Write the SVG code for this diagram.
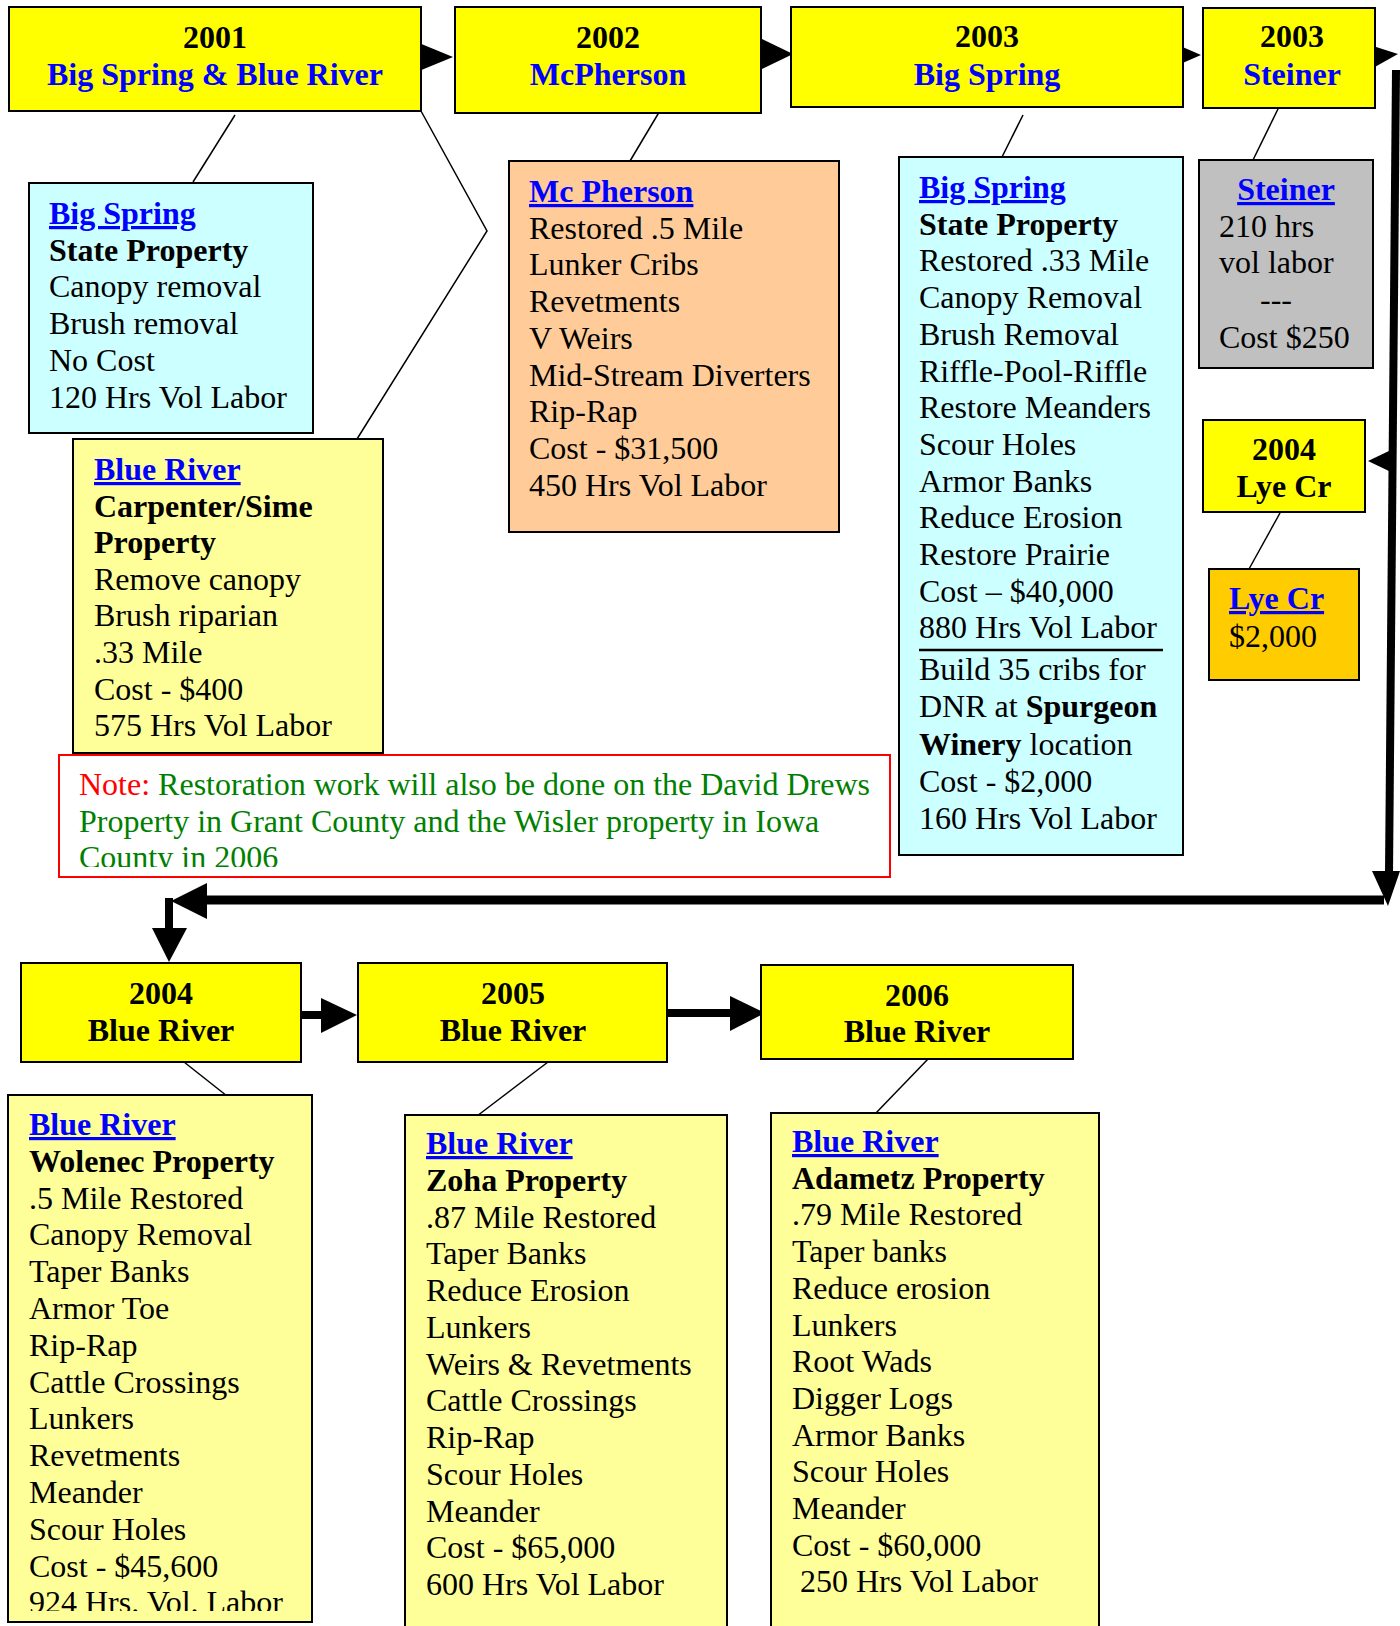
<svg xmlns="http://www.w3.org/2000/svg" width="1400" height="1626" viewBox="0 0 1400 1626">
<style>
.box{stroke:#000;stroke-width:2}
.yel{fill:#ffff00}
.cyan{fill:#ccffff}
.peach{fill:#ffcc99}
.gray{fill:#c0c0c0}
.gold{fill:#ffcc00}
.lyel{fill:#ffff99}
text{font-family:'Liberation Serif','Times New Roman',serif;font-size:32px;fill:#000}
.b{font-weight:bold}
.blue{fill:#0000ff}
.u{text-decoration:underline;text-decoration-thickness:3px}
.h{font-weight:bold;text-anchor:middle}
.thin{stroke:#000;stroke-width:1.5;fill:none}
.thick{stroke:#000;stroke-width:8;fill:none}
.head{fill:#000;stroke:none}
.red{fill:#ff0000}
.green{fill:#008000}
</style>
<defs>
<clipPath id="clipNote"><rect x="59" y="755" width="831" height="112"/></clipPath>
<clipPath id="clipWol"><rect x="8" y="1095" width="304" height="516"/></clipPath>
</defs>
<rect width="1400" height="1626" fill="#fff"/>

<g id="connectors">
<line class="thin" x1="235" y1="115" x2="193" y2="182"/>
<polyline class="thin" points="421,111 487,231 357,439"/>
<line class="thin" x1="661" y1="109" x2="630" y2="161"/>
<line class="thin" x1="1023" y1="115" x2="1002" y2="157"/>
<line class="thin" x1="1278" y1="109" x2="1253" y2="160"/>
<line class="thin" x1="1280" y1="513" x2="1249" y2="569"/>
<line class="thin" x1="184" y1="1062" x2="227" y2="1096"/>
<line class="thin" x1="548" y1="1062" x2="477" y2="1116"/>
<line class="thin" x1="929" y1="1058" x2="875" y2="1114"/>
<polygon class="head" points="419,43 453,57 419,71"/>
<polygon class="head" points="758,37 793,54 758,71"/>
<polygon class="head" points="1178,45 1201,55 1178,65"/>
<polygon class="head" points="1373,46 1398,54 1373,68"/>
<line class="thick" x1="1396" y1="70" x2="1389" y2="874"/>
<polygon class="head" points="1372,871 1400,871 1388,906"/>
<polygon class="head" points="1391,450 1368,461 1391,472"/>
<line class="thick" x1="1384" y1="900" x2="205" y2="900" style="stroke-width:9"/>
<polygon class="head" points="207,883 171,901 207,919"/>
<line class="thick" x1="169" y1="898" x2="169" y2="930"/>
<polygon class="head" points="152,928 187,928 169,962"/>
<line class="thick" x1="301" y1="1015" x2="323" y2="1015"/>
<polygon class="head" points="321,998 357,1015 321,1033"/>
<line class="thick" x1="667" y1="1013" x2="732" y2="1013"/>
<polygon class="head" points="730,996 765,1013 730,1031"/>
</g>

<g id="n2001">
<rect class="box yel" x="9" y="7" width="412" height="104"/>
<text class="h" x="215" y="48">2001</text>
<text class="h blue" x="215" y="85">Big Spring &amp; Blue River</text>
</g>

<g id="n2002">
<rect class="box yel" x="455" y="7" width="306" height="106"/>
<text class="h" x="608" y="48">2002</text>
<text class="h blue" x="608" y="85">McPherson</text>
</g>

<g id="n2003a">
<rect class="box yel" x="791" y="7" width="392" height="100"/>
<text class="h" x="987" y="47">2003</text>
<text class="h blue" x="987" y="85">Big Spring</text>
</g>

<g id="n2003b">
<rect class="box yel" x="1203" y="8" width="172" height="100"/>
<text class="h" x="1292" y="47">2003</text>
<text class="h blue" x="1292" y="85">Steiner</text>
</g>

<g id="bigspring2001">
<rect class="box cyan" x="29" y="183" width="284" height="250"/>
<text class="b blue u" x="49" y="224">Big Spring</text>
<text class="b" x="49" y="260.7">State Property</text>
<text x="49" y="297.4">Canopy removal</text>
<text x="49" y="334.1">Brush removal</text>
<text x="49" y="370.8">No Cost</text>
<text x="49" y="407.5">120 Hrs Vol Labor</text>
</g>

<g id="blueriver2001">
<rect class="box lyel" x="73" y="439" width="310" height="314"/>
<text class="b blue u" x="94" y="480">Blue River</text>
<text class="b" x="94" y="516.6">Carpenter/Sime</text>
<text class="b" x="94" y="553.2">Property</text>
<text x="94" y="589.8">Remove canopy</text>
<text x="94" y="626.4">Brush riparian</text>
<text x="94" y="663">.33 Mile</text>
<text x="94" y="699.6">Cost - $400</text>
<text x="94" y="736.2">575 Hrs Vol Labor</text>
</g>

<g id="mcpherson">
<rect class="box peach" x="509" y="161" width="330" height="371"/>
<text class="b blue u" x="529" y="202">Mc Pherson</text>
<text x="529" y="238.7">Restored .5 Mile</text>
<text x="529" y="275.4">Lunker Cribs</text>
<text x="529" y="312.1">Revetments</text>
<text x="529" y="348.8">V Weirs</text>
<text x="529" y="385.5">Mid-Stream Diverters</text>
<text x="529" y="422.2">Rip-Rap</text>
<text x="529" y="458.9">Cost - $31,500</text>
<text x="529" y="495.6">450 Hrs Vol Labor</text>
</g>

<g id="bigspring2003">
<rect class="box cyan" x="899" y="157" width="284" height="698"/>
<text class="b blue u" x="919" y="198">Big Spring</text>
<text class="b" x="919" y="234.7">State Property</text>
<text x="919" y="271.4">Restored .33 Mile</text>
<text x="919" y="308.1">Canopy Removal</text>
<text x="919" y="344.8">Brush Removal</text>
<text x="919" y="381.5">Riffle-Pool-Riffle</text>
<text x="919" y="418.2">Restore Meanders</text>
<text x="919" y="454.9">Scour Holes</text>
<text x="919" y="491.6">Armor Banks</text>
<text x="919" y="528.3">Reduce Erosion</text>
<text x="919" y="565">Restore Prairie</text>
<text x="919" y="601.7">Cost – $40,000</text>
<text x="919" y="638.4">880 Hrs Vol Labor</text>
<line x1="919" y1="650" x2="1163" y2="650" stroke="#000" stroke-width="2.5"/>
<text x="919" y="680">Build 35 cribs for</text>
<text x="919" y="717.3">DNR at <tspan class="b">Spurgeon</tspan></text>
<text x="919" y="754.6"><tspan class="b">Winery</tspan> location</text>
<text x="919" y="791.9">Cost - $2,000</text>
<text x="919" y="829.2">160 Hrs Vol Labor</text>
</g>

<g id="steiner">
<rect class="box gray" x="1199" y="160" width="174" height="208"/>
<text class="h blue u" x="1286" y="200">Steiner</text>
<text x="1219" y="237">210 hrs</text>
<text x="1219" y="273">vol labor</text>
<text x="1260" y="310">---</text>
<text x="1219" y="348">Cost $250</text>
</g>

<g id="n2004lye">
<rect class="box yel" x="1203" y="420" width="162" height="92"/>
<text class="h" x="1284" y="460">2004</text>
<text class="h" x="1284" y="497">Lye Cr</text>
</g>

<g id="lyecr">
<rect class="box gold" x="1209" y="569" width="150" height="111"/>
<text class="b blue u" x="1229" y="609">Lye Cr</text>
<text x="1229" y="647">$2,000</text>
</g>

<g id="note">
<rect x="59" y="755" width="831" height="122" fill="#fff" stroke="#ff0000" stroke-width="2"/>
<g clip-path="url(#clipNote)">
<text x="79" y="795"><tspan class="red">Note: </tspan><tspan class="green">Restoration work will also be done on the David Drews</tspan></text>
<text class="green" x="79" y="832">Property in Grant County and the Wisler property in Iowa</text>
<text class="green" x="79" y="868">County in 2006</text>
</g>
</g>

<g id="n2004">
<rect class="box yel" x="21" y="963" width="280" height="99"/>
<text class="h" x="161" y="1004">2004</text>
<text class="h" x="161" y="1041">Blue River</text>
</g>

<g id="n2005">
<rect class="box yel" x="358" y="963" width="309" height="99"/>
<text class="h" x="513" y="1004">2005</text>
<text class="h" x="513" y="1041">Blue River</text>
</g>

<g id="n2006">
<rect class="box yel" x="761" y="965" width="312" height="94"/>
<text class="h" x="917" y="1006">2006</text>
<text class="h" x="917" y="1042">Blue River</text>
</g>

<g id="wolenec">
<rect class="box lyel" x="8" y="1095" width="304" height="527"/>
<g clip-path="url(#clipWol)">
<text class="b blue u" x="29" y="1135">Blue River</text>
<text class="b" x="29" y="1171.8">Wolenec Property</text>
<text x="29" y="1208.6">.5 Mile Restored</text>
<text x="29" y="1245.4">Canopy Removal</text>
<text x="29" y="1282.2">Taper Banks</text>
<text x="29" y="1319">Armor Toe</text>
<text x="29" y="1355.8">Rip-Rap</text>
<text x="29" y="1392.6">Cattle Crossings</text>
<text x="29" y="1429.4">Lunkers</text>
<text x="29" y="1466.2">Revetments</text>
<text x="29" y="1503">Meander</text>
<text x="29" y="1539.8">Scour Holes</text>
<text x="29" y="1576.6">Cost - $45,600</text>
<text x="29" y="1613.4">924 Hrs. Vol. Labor</text>
</g>
</g>

<g id="zoha">
<rect class="box lyel" x="405" y="1115" width="322" height="530"/>
<text class="b blue u" x="426" y="1154">Blue River</text>
<text class="b" x="426" y="1190.75">Zoha Property</text>
<text x="426" y="1227.5">.87 Mile Restored</text>
<text x="426" y="1264.25">Taper Banks</text>
<text x="426" y="1301">Reduce Erosion</text>
<text x="426" y="1337.75">Lunkers</text>
<text x="426" y="1374.5">Weirs &amp; Revetments</text>
<text x="426" y="1411.25">Cattle Crossings</text>
<text x="426" y="1448">Rip-Rap</text>
<text x="426" y="1484.75">Scour Holes</text>
<text x="426" y="1521.5">Meander</text>
<text x="426" y="1558.25">Cost - $65,000</text>
<text x="426" y="1595">600 Hrs Vol Labor</text>
</g>

<g id="adametz">
<rect class="box lyel" x="771" y="1113" width="328" height="532"/>
<text class="b blue u" x="792" y="1152">Blue River</text>
<text class="b" x="792" y="1188.7">Adametz Property</text>
<text x="792" y="1225.4">.79 Mile Restored</text>
<text x="792" y="1262.1">Taper banks</text>
<text x="792" y="1298.8">Reduce erosion</text>
<text x="792" y="1335.5">Lunkers</text>
<text x="792" y="1372.2">Root Wads</text>
<text x="792" y="1408.9">Digger Logs</text>
<text x="792" y="1445.6">Armor Banks</text>
<text x="792" y="1482.3">Scour Holes</text>
<text x="792" y="1519">Meander</text>
<text x="792" y="1555.7">Cost - $60,000</text>
<text x="800" y="1592.4">250 Hrs Vol Labor</text>
</g>
</svg>
